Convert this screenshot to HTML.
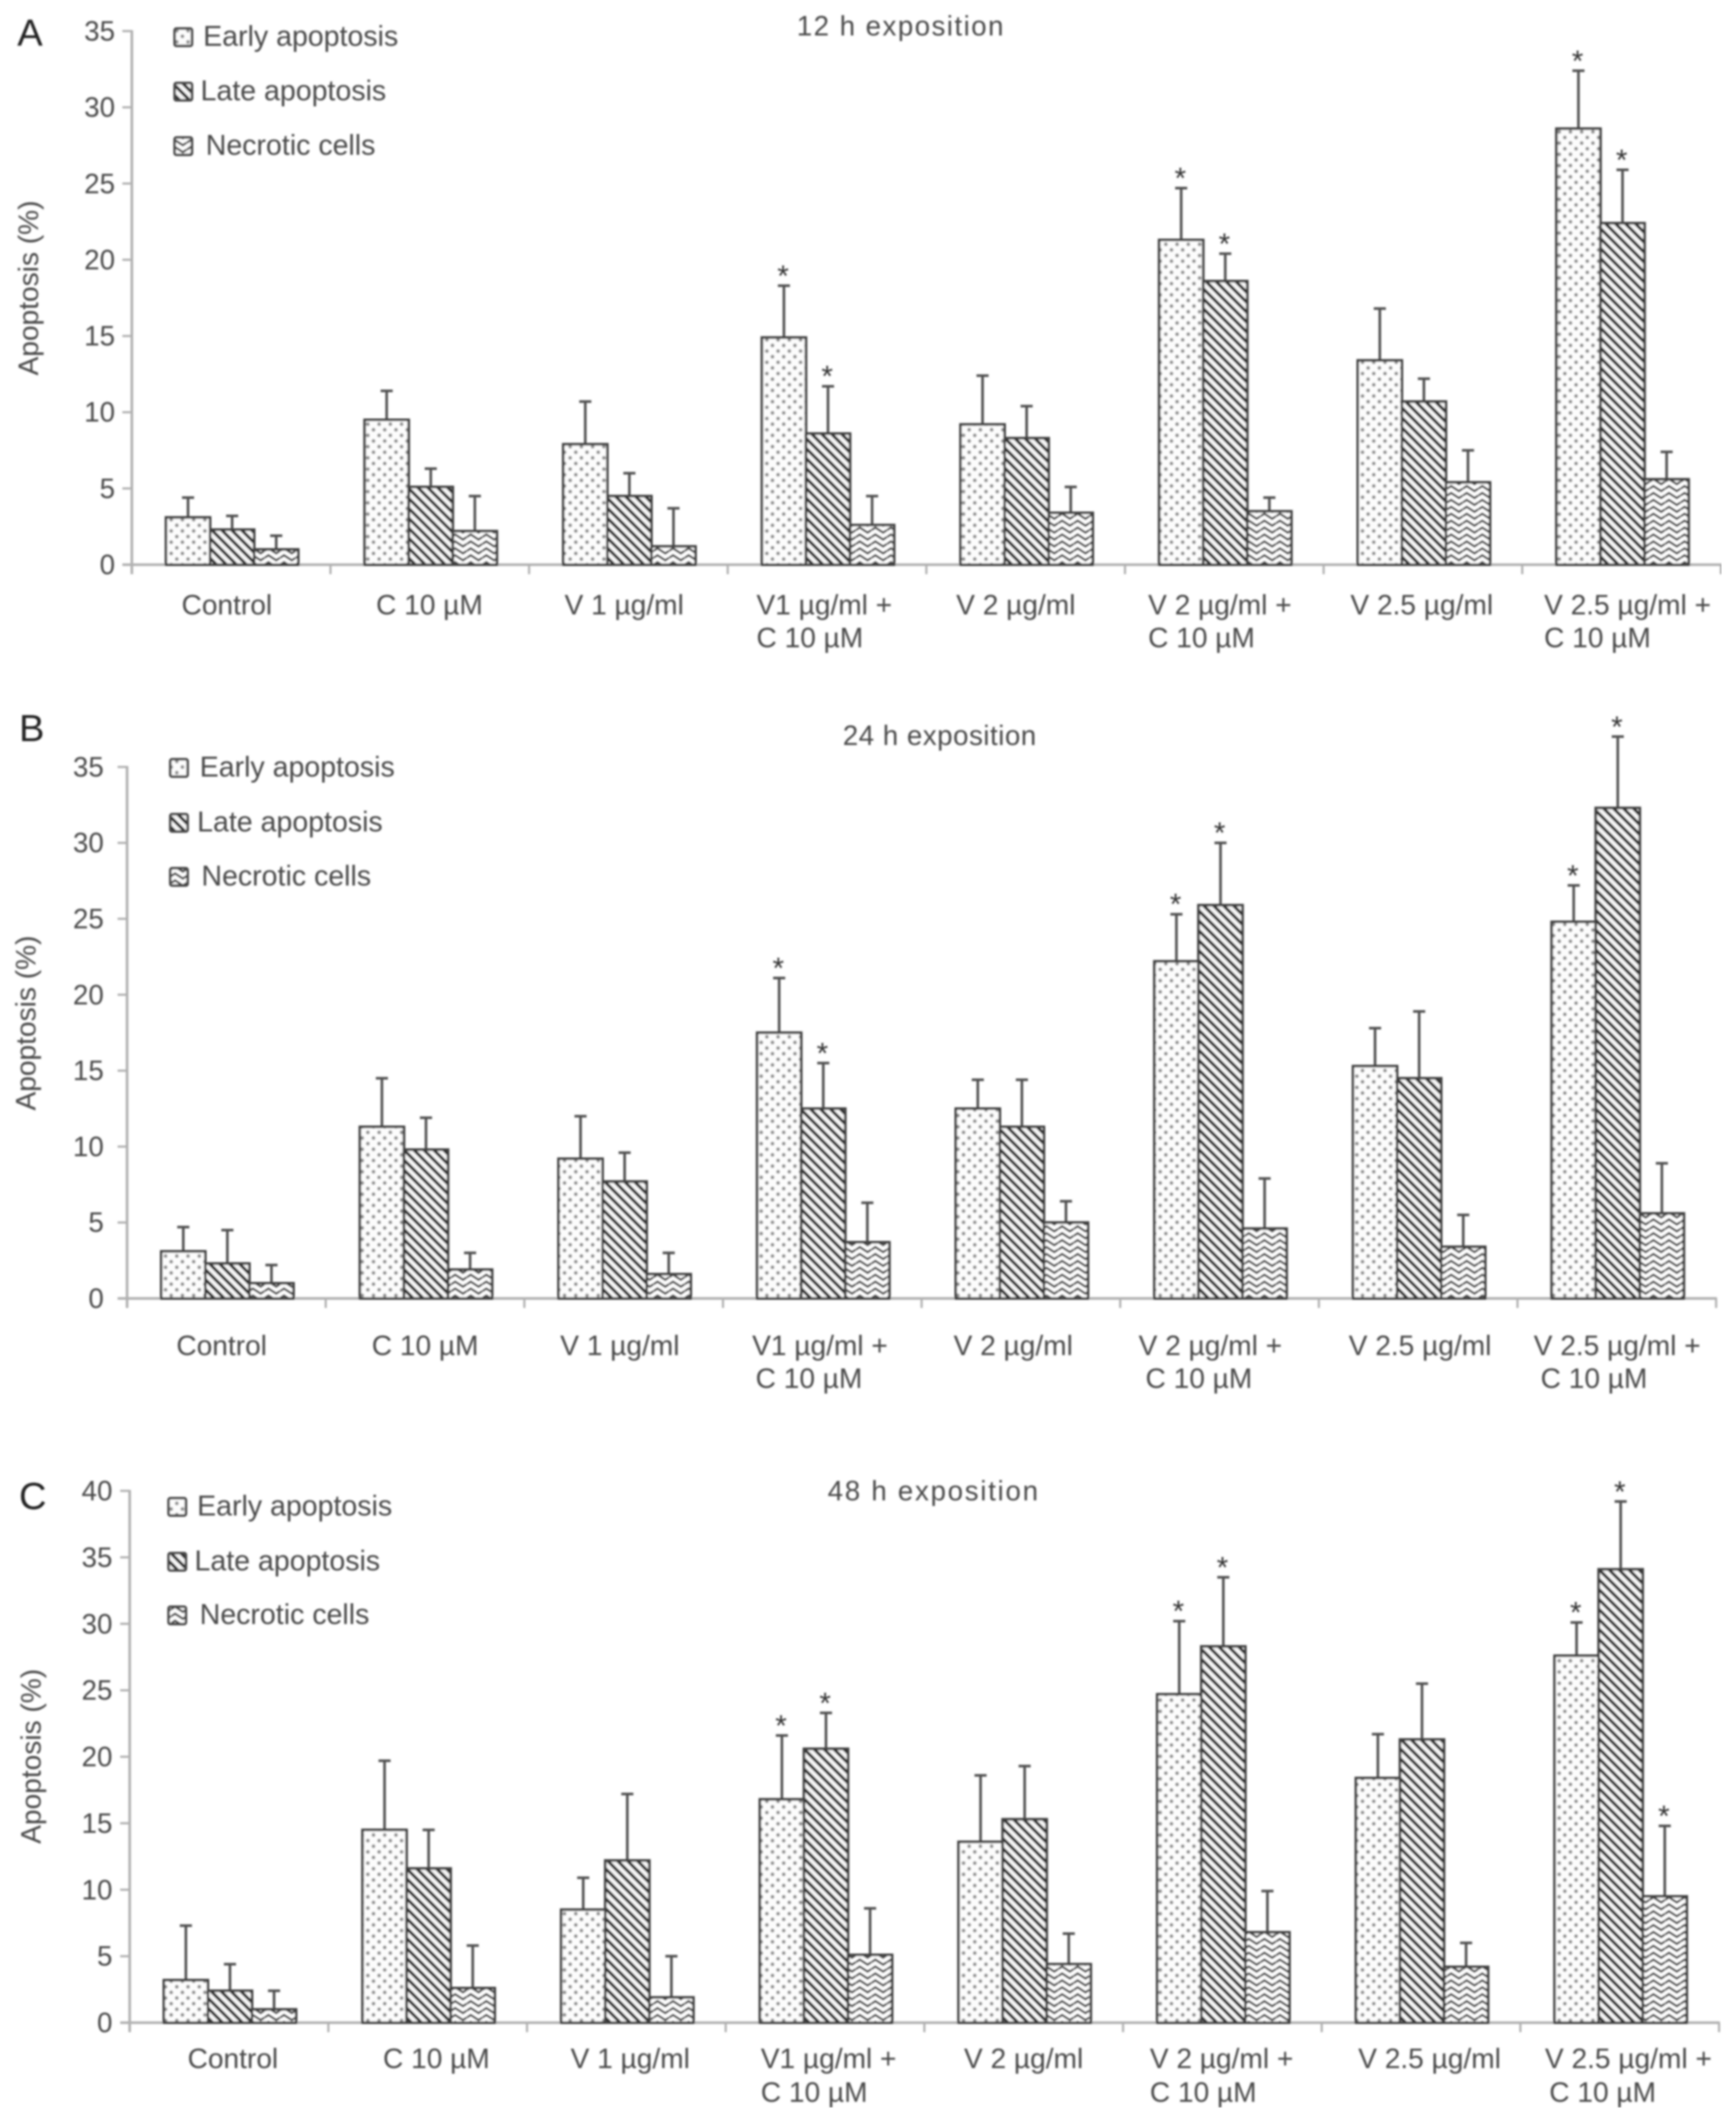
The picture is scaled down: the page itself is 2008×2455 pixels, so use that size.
<!DOCTYPE html>
<html lang="en">
<head>
<meta charset="utf-8">
<title>Apoptosis at 12, 24 and 48 h exposition</title>
<style>
html,body{margin:0;padding:0;background:#fff}
svg{display:block}
text{font-family:"Liberation Sans",sans-serif;fill:#484848}
</style>
</head>
<body>
<svg id="figure" xmlns="http://www.w3.org/2000/svg" width="2008" height="2455" viewBox="0 0 2008 2455">
<defs>
<filter id="soft" x="0" y="0" width="100%" height="100%"><feGaussianBlur stdDeviation="1"/></filter>
<pattern id="pat-early" width="13" height="13" patternUnits="userSpaceOnUse">
<rect width="13" height="13" fill="#fcfcfc"/>
<circle cx="3" cy="3" r="2.2" fill="#8f8f8f"/>
<circle cx="9.5" cy="9.5" r="2.2" fill="#8f8f8f"/>
</pattern>
<pattern id="pat-late" width="11.5" height="11.5" patternUnits="userSpaceOnUse">
<rect width="11.5" height="11.5" fill="#f6f6f6"/>
<path d="M-2.875,8.625 L2.875,14.375 M-2.875,-2.875 L14.375,14.375 M8.625,-2.875 L14.375,2.875" stroke="#262626" stroke-width="3.6" fill="none"/>
</pattern>
<pattern id="pat-necrotic" width="18" height="16" patternUnits="userSpaceOnUse">
<rect width="18" height="16" fill="#fefefe"/>
<path d="M0,5 L4.5,2 L9,5 L13.5,8 L18,5 M0,13 L4.5,10 L9,13 L13.5,16 L18,13 M0,-3 L4.5,-6 L9,-3 L13.5,0 L18,-3" stroke="#444" stroke-width="2.6" fill="none"/>
</pattern>
</defs>
<g id="plot-root" filter="url(#soft)"></g>
</svg>
<script>
const categories = [["Control"],["C 10 µM"],["V 1 µg/ml"],["V1 µg/ml +","C 10 µM"],["V 2 µg/ml"],["V 2 µg/ml +","C 10 µM"],["V 2.5 µg/ml"],["V 2.5 µg/ml +","C 10 µM"]];
const seriesNames = ["Early apoptosis","Late apoptosis","Necrotic cells"];
const ticksA = [0,5,10,15,20,25,30,35];
const ticksB = [0,5,10,15,20,25,30,35];
const ticksC = [0,5,10,15,20,25,30,35,40];

const earlyA = [3.1,9.5,7.9,14.9,9.2,21.3,13.4,28.6];
const lateA = [2.3,5.1,4.5,8.6,8.3,18.6,10.7,22.4];
const necroticA = [1.0,2.2,1.2,2.6,3.4,3.5,5.4,5.6];
const earlyErrTopA = [4.4,11.4,10.7,18.3,12.4,24.7,16.8,32.4];
const lateErrTopA = [3.2,6.3,6.0,11.7,10.4,20.4,12.2,25.9];
const necroticErrTopA = [1.9,4.5,3.7,4.5,5.1,4.4,7.5,7.4];
const earlySigA = [0,0,0,1,0,1,0,1];
const lateSigA = [0,0,0,1,0,1,0,1];
const necroticSigA = [0,0,0,0,0,0,0,0];

const earlyB = [3.1,11.3,9.2,17.5,12.5,22.2,15.3,24.8];
const lateB = [2.3,9.8,7.7,12.5,11.3,25.9,14.5,32.3];
const necroticB = [1.0,1.9,1.6,3.7,5.0,4.6,3.4,5.6];
const earlyErrTopB = [4.7,14.5,12.0,21.1,14.4,25.3,17.8,27.2];
const lateErrTopB = [4.5,11.9,9.6,15.5,14.4,30.0,18.9,37.0];
const necroticErrTopB = [2.2,3.0,3.0,6.3,6.4,7.9,5.5,8.9];
const earlySigB = [0,0,0,1,0,1,0,1];
const lateSigB = [0,0,0,1,0,1,0,1];
const necroticSigB = [0,0,0,0,0,0,0,0];

const earlyC = [3.2,14.5,8.5,16.8,13.6,24.7,18.4,27.6];
const lateC = [2.4,11.6,12.2,20.6,15.3,28.3,21.3,34.1];
const necroticC = [1.0,2.6,1.9,5.1,4.4,6.8,4.2,9.5];
const earlyErrTopC = [7.3,19.7,10.9,21.6,18.6,30.2,21.7,30.1];
const lateErrTopC = [4.4,14.5,17.2,23.3,19.3,33.5,25.5,39.2];
const necroticErrTopC = [2.4,5.8,5.0,8.6,6.7,9.9,6.0,14.8];
const earlySigC = [0,0,0,1,0,1,0,1];
const lateSigC = [0,0,0,1,0,1,0,1];
const necroticSigC = [0,0,0,0,0,0,0,1];

const panels = [
  {id:"a",letter:"A",title:"12 h exposition",titleSpacing:1.7,ticks:ticksA,
   values:[earlyA,lateA,necroticA],tops:[earlyErrTopA,lateErrTopA,necroticErrTopA],sig:[earlySigA,lateSigA,necroticSigA],
   x0:152.5,catW:229.75,y0:653,unit:17.63,tickEnd:133,
   letterPos:[20,53],titlePos:[1042,41],yTitlePos:[44,333],
   swatchX:202,swatchY:[43,106,169],legendX:[235,232,238],
   labelLeft:[210,435,653,875,1106,1328,1562,1786],label2Left:[875,1328,1786],labelY:[710.5,748.5]},
  {id:"b",letter:"B",title:"24 h exposition",titleSpacing:0.6,ticks:ticksB,
   values:[earlyB,lateB,necroticB],tops:[earlyErrTopB,lateErrTopB,necroticErrTopB],sig:[earlySigB,lateSigB,necroticSigB],
   x0:147,catW:229.75,y0:1501.5,unit:17.56,tickEnd:120,
   letterPos:[22,857],titlePos:[1087,861.5],yTitlePos:[41,1183],
   swatchX:197,swatchY:[888,951.5,1014],legendX:[231,228,233],
   labelLeft:[204,430,648,870,1103,1317,1560,1774],label2Left:[874,1325,1782],labelY:[1567,1605]},
  {id:"c",letter:"C",title:"48 h exposition",titleSpacing:2,ticks:ticksC,
   values:[earlyC,lateC,necroticC],tops:[earlyErrTopC,lateErrTopC,necroticErrTopC],sig:[earlySigC,lateSigC,necroticSigC],
   x0:150,catW:229.8,y0:2339,unit:15.375,tickEnd:130,
   letterPos:[22,1745],titlePos:[1080,1735],yTitlePos:[47,2031],
   swatchX:195,swatchY:[1742.5,1806,1868],legendX:[228,225,231],
   labelLeft:[217,443,660,880,1115,1330,1571,1787],label2Left:[880,1330,1792],labelY:[2391.5,2430.5]}
];
const patternIds = ["pat-early","pat-late","pat-necrotic"];
const seriesKeys = ["early","late","necrotic"];
const NS = "http://www.w3.org/2000/svg";
const root = document.getElementById("plot-root");
const BAR_OFFSET = 39.5;
const BAR_W = 51;

function make(parent, tag, props, text){
  const el = document.createElementNS(NS, tag);
  for (const k in props) el.setAttribute(k, props[k]);
  if (text !== undefined) el.textContent = text;
  parent.appendChild(el);
  return el;
}
function yScale(p, v){ return p.y0 - v * p.unit; }
function xBoundary(p, i){ return p.x0 + i * p.catW; }
function xBar(p, c, s){ return xBoundary(p, c) + BAR_OFFSET + s * BAR_W; }

panels.forEach(function(p){
  const g = make(root, "g", {});
  
  

  const letter = make(g, "text", {x:p.letterPos[0], y:p.letterPos[1], "font-size":44, style:"fill:#222"}, p.letter);
  
  

  const title = make(g, "text", {x:p.titlePos[0], y:p.titlePos[1], "font-size":32, "letter-spacing":p.titleSpacing, "text-anchor":"middle"}, p.title);
  
  

  const yTitle = make(g, "text", {transform:"translate("+p.yTitlePos[0]+","+p.yTitlePos[1]+") rotate(-90)", "font-size":32.5, "text-anchor":"middle"}, "Apoptosis (%)");
  
  

  const maxTick = p.ticks[p.ticks.length - 1];
  const yAxis = make(g, "line", {x1:p.x0, x2:p.x0, y1:yScale(p, maxTick)-1, y2:p.y0+11, stroke:"#b0b0b0", "stroke-width":3});
  
  

  const xAxis = make(g, "line", {x1:p.x0-11, x2:xBoundary(p, categories.length)+1, y1:p.y0, y2:p.y0, stroke:"#b0b0b0", "stroke-width":3});
  
  

  p.ticks.forEach(function(t){
    const mark = make(g, "line", {x1:p.x0-11, x2:p.x0, y1:yScale(p, t), y2:yScale(p, t), stroke:"#b0b0b0", "stroke-width":2.5});
    
    
    const lab = make(g, "text", {x:p.tickEnd, y:yScale(p, t)+11, "font-size":32, "text-anchor":"end"}, String(t));
    
    
  });

  for (let i = 1; i <= categories.length; i++){
    const mark = make(g, "line", {x1:xBoundary(p, i), x2:xBoundary(p, i), y1:p.y0, y2:p.y0+11, stroke:"#b0b0b0", "stroke-width":2.5});
    
    
  }

  let secondLine = 0;
  categories.forEach(function(lines, c){
    const lab = make(g, "text", {x:p.labelLeft[c], y:p.labelY[0], "font-size":32.5}, lines[0]);
    
    
    if (lines[1]){
      const lab2 = make(g, "text", {x:p.label2Left[secondLine], y:p.labelY[1], "font-size":32.5}, lines[1]);
      
      
      secondLine++;
    }
  });

  p.values.forEach(function(vals, s){
    vals.forEach(function(v, c){
      const cx = xBar(p, c, s) + BAR_W / 2;
      const topY = yScale(p, p.tops[s][c]);
      const err = make(g, "line", {x1:cx, x2:cx, y1:yScale(p, v), y2:topY, stroke:"#505050", "stroke-width":3});
      
      
      const cap = make(g, "line", {x1:cx-7, x2:cx+7, y1:topY, y2:topY, stroke:"#505050", "stroke-width":3});
      
      
      const bar = make(g, "rect", {x:xBar(p, c, s), y:yScale(p, v), width:BAR_W, height:p.y0 - yScale(p, v), fill:"url(#"+patternIds[s]+")", stroke:"#404040", "stroke-width":3});
      
      
      if (p.sig[s][c]){
        const star = make(g, "text", {x:cx-1, y:topY, "font-size":34, "text-anchor":"middle", style:"fill:#333"}, "*");
        
        
      }
    });
  });

  seriesNames.forEach(function(name, s){
    const swatch = make(g, "rect", {x:p.swatchX, y:p.swatchY[s]-10, width:20, height:20, rx:2, fill:"url(#"+patternIds[s]+")", stroke:"#484848", "stroke-width":3});
    
    
    const txt = make(g, "text", {x:p.legendX[s], y:p.swatchY[s]+10, "font-size":33}, name);
    
    
  });
});
</script>
</body>
</html>
